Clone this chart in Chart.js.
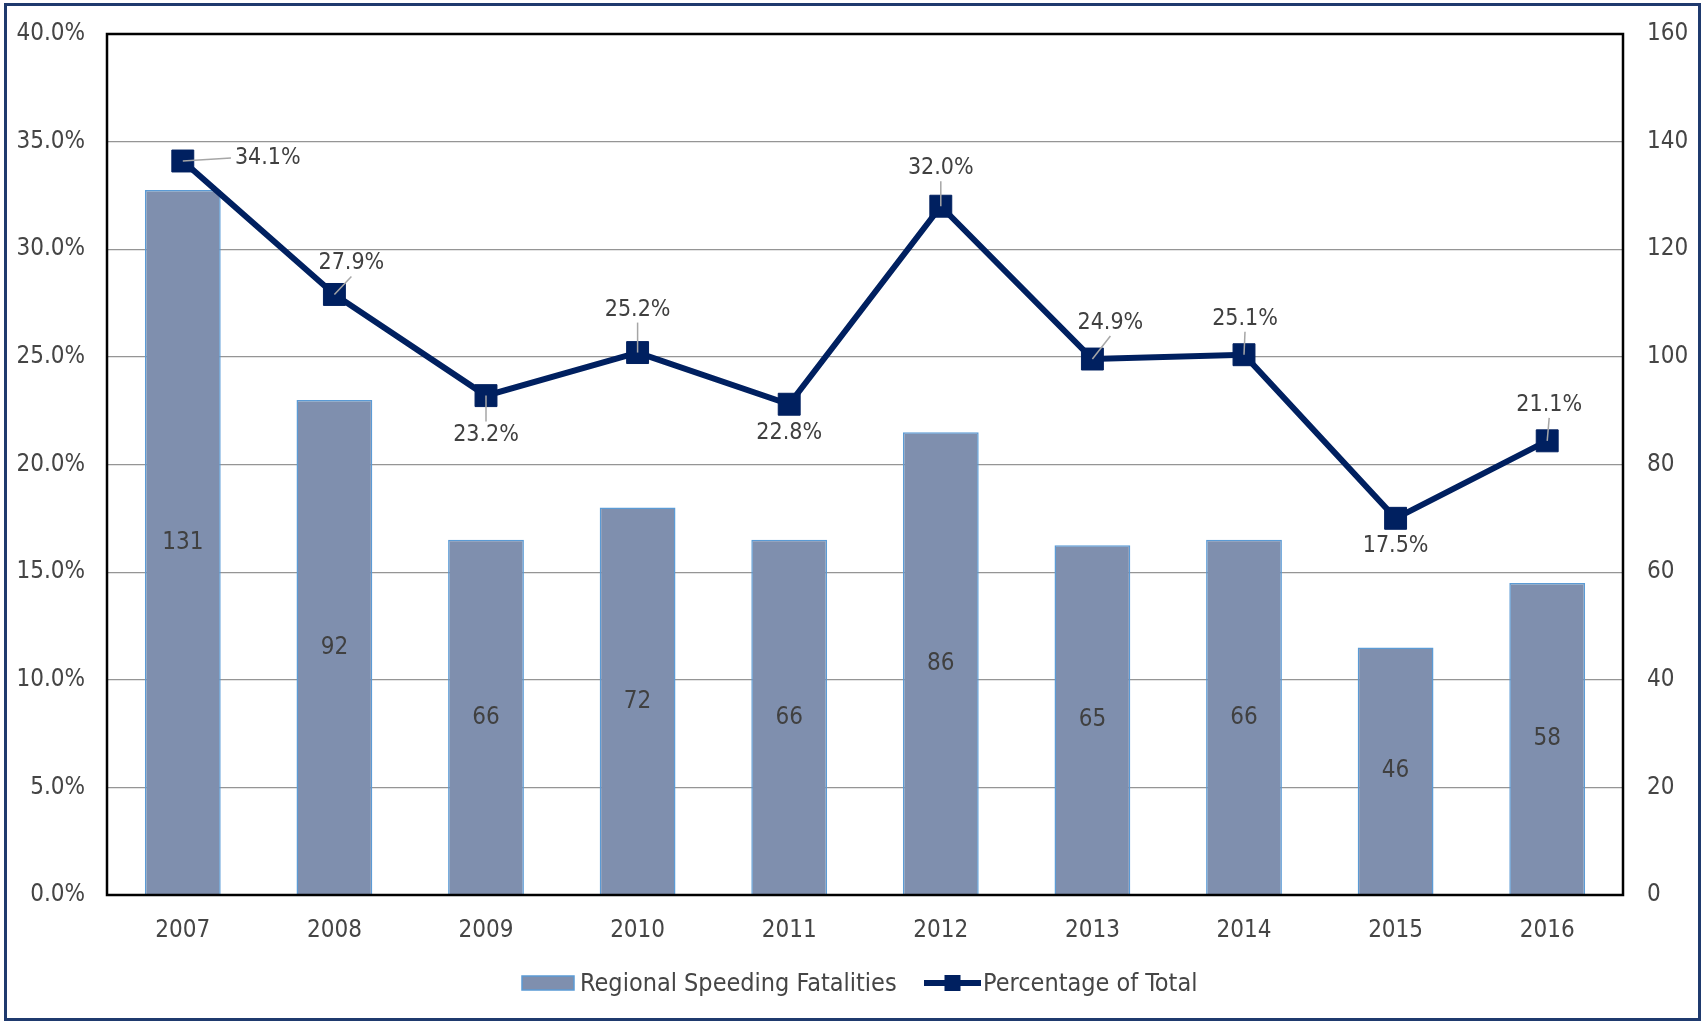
<!DOCTYPE html>
<html>
<head>
<meta charset="utf-8">
<title>Regional Speeding Fatalities</title>
<script src="https://cdn.jsdelivr.net/npm/chart.js@4.4.1/dist/chart.umd.min.js"></script>
<style>
    html, body { margin: 0; padding: 0; background: #fff; }
    #wrap { width: 1703px; height: 1023px; }
</style>
</head>
<body>
<div id="wrap"><canvas id="myChart" width="1703" height="1023"></canvas></div>
<script>
// Datos del gráfico
const years = ['2007', '2008', '2009', '2010', '2011', '2012', '2013', '2014', '2015', '2016'];
const fatalities = [131, 92, 66, 72, 66, 86, 65, 66, 46, 58];
const percentTotal = [34.1, 27.9, 23.2, 25.2, 22.8, 32.0, 24.9, 25.1, 17.5, 21.1];
const percentTicks = [0, 5, 10, 15, 20, 25, 30, 35, 40];
const countTicks = [0, 20, 40, 60, 80, 100, 120, 140, 160];
const seriesNames = ['Regional Speeding Fatalities', 'Percentage of Total'];

const FONT = "'Liberation Sans Narrow', 'DejaVu Sans Condensed', 'Roboto', sans-serif";
const TEXT = '#454545';
const NAVY = '#002060';
const BAR_FILL = '#7f8fae';
const BAR_EDGE = '#5b9bd5';

// donde va cada etiqueta de porcentaje respecto a su punto (px)
const labelPlacement = [
    { dx: 85, dy: -3, leader: true },
    { dx: 17, dy: -31, leader: true },
    { dx: 0, dy: 39, leader: true },
    { dx: 0, dy: -43, leader: true },
    { dx: 0, dy: 29, leader: false },
    { dx: 0, dy: -38, leader: true },
    { dx: 18, dy: -36, leader: true },
    { dx: 1, dy: -36, leader: true },
    { dx: 0, dy: 28, leader: false },
    { dx: 2, dy: -36, leader: true }
];

Chart.defaults.font.family = FONT;
Chart.defaults.color = TEXT;

// sin relleno extra por las etiquetas de los ejes
const noPad = s => { s.paddingTop = 0; s.paddingBottom = 0; s.paddingLeft = 0; s.paddingRight = 0; };

// etiquetas dentro de las barras
const barLabels = {
    id: 'barLabels',
    afterDatasetDraw(chart, args) {
        if (chart.data.datasets[args.index].type !== 'bar') return;
        const ctx = chart.ctx;
        ctx.save();
        ctx.font = `24px ${FONT}`;
        ctx.fillStyle = '#404040';
        ctx.textAlign = 'center';
        ctx.textBaseline = 'middle';
        args.meta.data.forEach((bar, i) => {
            ctx.fillText(String(fatalities[i]), bar.x, (bar.y + bar.base) / 2);
        });
        ctx.restore();
    }
};

// etiquetas de porcentaje con líneas guía
const lineLabels = {
    id: 'lineLabels',
    afterDatasetsDraw(chart) {
        const ctx = chart.ctx;
        const idx = chart.data.datasets.findIndex(d => d.type === 'line');
        const meta = chart.getDatasetMeta(idx);
        ctx.save();
        ctx.font = `23px ${FONT}`;
        ctx.textAlign = 'center';
        ctx.textBaseline = 'middle';
        meta.data.forEach((pt, i) => {
            const p = labelPlacement[i];
            const txt = percentTotal[i].toFixed(1) + '%';
            const w = ctx.measureText(txt).width;
            const cx = pt.x + p.dx;
            const cy = pt.y + p.dy;
            if (p.leader) {
                let tx, ty;
                if (Math.abs(p.dx) > Math.abs(p.dy)) {
                    tx = cx - w / 2 - 4;
                    ty = cy;
                } else {
                    tx = cx;
                    ty = p.dy < 0 ? cy + 13 : cy - 13;
                }
                ctx.strokeStyle = '#a6a6a6';
                ctx.lineWidth = 1.5;
                ctx.beginPath();
                ctx.moveTo(pt.x, pt.y);
                ctx.lineTo(tx, ty);
                ctx.stroke();
            }
            ctx.fillStyle = '#404040';
            ctx.fillText(txt, cx, cy);
        });
        ctx.restore();
    }
};

// marco del área de trazado, borde exterior y leyenda
const frameAndLegend = {
    id: 'frameAndLegend',
    afterDraw(chart) {
        const ctx = chart.ctx;
        const a = chart.chartArea;
        ctx.save();
        ctx.strokeStyle = '#000';
        ctx.lineWidth = 2.5;
        ctx.strokeRect(a.left, a.top, a.right - a.left, a.bottom - a.top);

        ctx.strokeStyle = '#1f3a6e';
        ctx.lineWidth = 3;
        ctx.strokeRect(5.5, 4.5, 1694, 1015);

        // leyenda
        ctx.font = `25px ${FONT}`;
        ctx.textBaseline = 'middle';
        ctx.textAlign = 'left';
        const y = 983;
        let x = 522;

        ctx.fillStyle = BAR_FILL;
        ctx.fillRect(x, y - 7, 52, 14);
        ctx.strokeStyle = BAR_EDGE;
        ctx.lineWidth = 1.5;
        ctx.strokeRect(x, y - 7, 52, 14);
        ctx.fillStyle = TEXT;
        ctx.fillText(seriesNames[0], x + 58, y + 1);

        x = 924;
        ctx.strokeStyle = NAVY;
        ctx.lineWidth = 6;
        ctx.beginPath();
        ctx.moveTo(x, y);
        ctx.lineTo(x + 57, y);
        ctx.stroke();
        ctx.fillStyle = NAVY;
        ctx.fillRect(x + 28.5 - 8, y - 8, 16, 16);
        ctx.fillStyle = TEXT;
        ctx.fillText(seriesNames[1], x + 59, y + 1);
        ctx.restore();
    }
};

const ctx = document.getElementById('myChart').getContext('2d');
const chart = new Chart(ctx, {
    data: {
        labels: years,
        datasets: [
            {
                type: 'line',
                label: seriesNames[1],
                data: percentTotal,
                yAxisID: 'y',
                borderColor: NAVY,
                backgroundColor: NAVY,
                borderWidth: 6,
                pointStyle: 'rect',
                pointRadius: 15.5,
                pointBorderWidth: 1,
                pointBackgroundColor: NAVY,
                pointBorderColor: NAVY,
                tension: 0,
                fill: false,
                order: 0
            },
            {
                type: 'bar',
                label: seriesNames[0],
                data: fatalities,
                yAxisID: 'y1',
                backgroundColor: BAR_FILL,
                borderColor: BAR_EDGE,
                borderWidth: 1.5,
                barPercentage: 0.5,
                categoryPercentage: 1.0,
                order: 1
            }
        ]
    },
    options: {
        responsive: false,
        animation: false,
        layout: { padding: { top: 34, bottom: 68, left: 0, right: 0 } },
        plugins: {
            legend: { display: false },
            tooltip: { enabled: false }
        },
        scales: {
            x: {
                grid: { display: false, drawTicks: false },
                border: { display: false },
                ticks: { font: { size: 24 }, color: TEXT, padding: 21, maxRotation: 0 },
                afterFit: s => { s.height = 60; noPad(s); }
            },
            y: {
                position: 'left',
                min: percentTicks[0],
                max: percentTicks[percentTicks.length - 1],
                afterBuildTicks: s => { s.ticks = percentTicks.map(v => ({ value: v })); },
                grid: { color: '#959595', lineWidth: 1.2, drawTicks: false },
                border: { display: false },
                ticks: {
                    font: { size: 24 },
                    color: TEXT,
                    padding: 22,
                    callback: v => v.toFixed(1) + '%'
                },
                afterFit: s => { s.width = 107; noPad(s); }
            },
            y1: {
                position: 'right',
                min: countTicks[0],
                max: countTicks[countTicks.length - 1],
                afterBuildTicks: s => { s.ticks = countTicks.map(v => ({ value: v })); },
                grid: { display: false, drawTicks: false },
                border: { display: false },
                ticks: { font: { size: 24 }, color: TEXT, padding: 24 },
                afterFit: s => { s.width = 80; noPad(s); }
            }
        }
    },
    plugins: [barLabels, lineLabels, frameAndLegend]
});
</script>
</body>
</html>
